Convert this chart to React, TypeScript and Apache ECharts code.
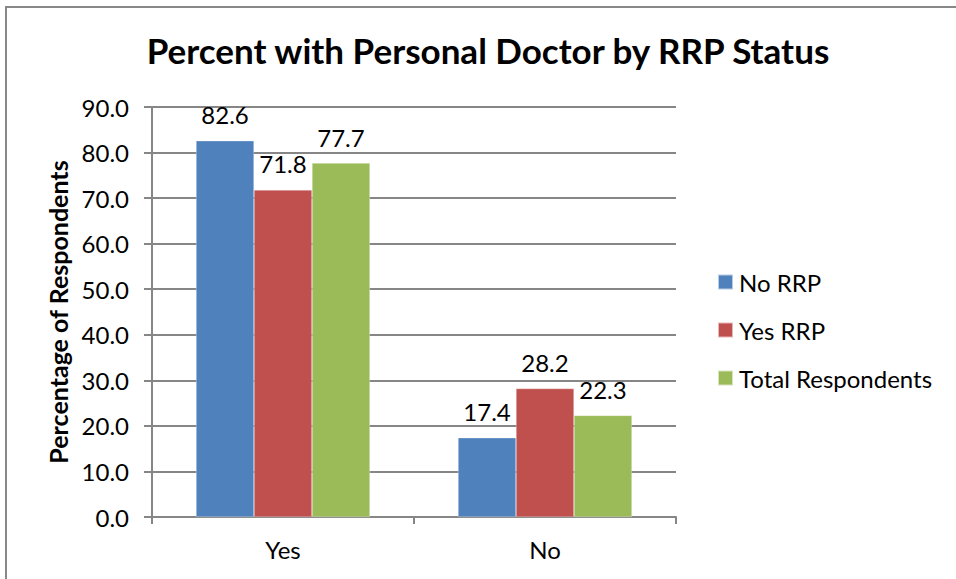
import React, { useEffect, useRef } from "react";
import * as echarts from "echarts";

const categories = ["Yes", "No"];
const seriesNames = ["No RRP", "Yes RRP", "Total Respondents"];
const noRRP = [82.6, 17.4];
const yesRRP = [71.8, 28.2];
const totalRespondents = [77.7, 22.3];
const colors = ["#4F81BD", "#C0504D", "#9BBB59"];
const yTicks = { min: 0, max: 90, interval: 10 };

const FONT = "Lato, 'Open Sans', sans-serif";

export default function App() {
  const ref = useRef<HTMLDivElement>(null);
  useEffect(() => {
    if (!ref.current) return;
    const chart = echarts.init(ref.current, null, { renderer: "svg" });
    const data = [noRRP, yesRRP, totalRespondents];
    chart.setOption({
      animation: false,
      backgroundColor: "#fff",
      textStyle: { fontFamily: FONT },
      title: {
        text: "Percent with Personal Doctor by RRP Status",
        left: 483,
        top: 27,
        textAlign: "center",
        textStyle: { fontSize: 35, fontWeight: "bold", color: "#000", fontFamily: FONT },
      },
      legend: {
        orient: "vertical",
        left: 717,
        top: 270,
        padding: 0,
        itemWidth: 15,
        itemHeight: 15,
        itemGap: 24,
        icon: "rect",
        data: seriesNames,
        textStyle: { fontSize: 24, color: "#000", fontFamily: FONT, lineHeight: 24, padding: [0, 0, 0, 1] },
      },
      grid: { left: 152, right: 280, top: 107, bottom: 62 },
      xAxis: {
        type: "category",
        data: categories,
        axisLine: { lineStyle: { color: "#868686", width: 2 } },
        axisTick: { show: true, length: 7, lineStyle: { color: "#868686", width: 2 } },
        axisLabel: { fontSize: 24, color: "#000", margin: 20, fontFamily: FONT },
      },
      yAxis: {
        type: "value",
        min: yTicks.min,
        max: yTicks.max,
        interval: yTicks.interval,
        name: "Percentage of Respondents",
        nameLocation: "middle",
        nameGap: 81,
        nameTextStyle: { fontSize: 25, fontWeight: "bold", color: "#000", fontFamily: FONT },
        axisLine: { show: true, lineStyle: { color: "#868686", width: 2 } },
        axisTick: { show: true, length: 8, lineStyle: { color: "#868686", width: 2 } },
        axisLabel: {
          fontSize: 24,
          color: "#000",
          margin: 23,
          fontFamily: FONT,
          formatter: (v: number) => v.toFixed(1),
        },
        splitLine: { lineStyle: { color: "#868686", width: 2 } },
      },
      series: seriesNames.map((name, i) => ({
        name,
        type: "bar",
        data: data[i],
        barGap: "0%",
        barCategoryGap: "33.6%",
        itemStyle: { color: colors[i], borderColor: "rgba(255,255,255,0.6)", borderWidth: 0.5 },
        label: {
          show: true,
          position: "top",
          distance: 14,
          fontSize: 24,
          color: "#000",
          fontFamily: FONT,
          formatter: (p: any) => Number(p.value).toFixed(1),
        },
      })),
      graphic: [
        { type: "line", shape: { x1: 5, y1: 7, x2: 956, y2: 7 }, style: { stroke: "#888", lineWidth: 2 } },
        { type: "line", shape: { x1: 6, y1: 7, x2: 6, y2: 579 }, style: { stroke: "#888", lineWidth: 2 } },
      ],
    });
    return () => chart.dispose();
  }, []);
  return <div ref={ref} style={{ width: 956, height: 579, position: "absolute", left: 0, top: 0 }} />;
}
